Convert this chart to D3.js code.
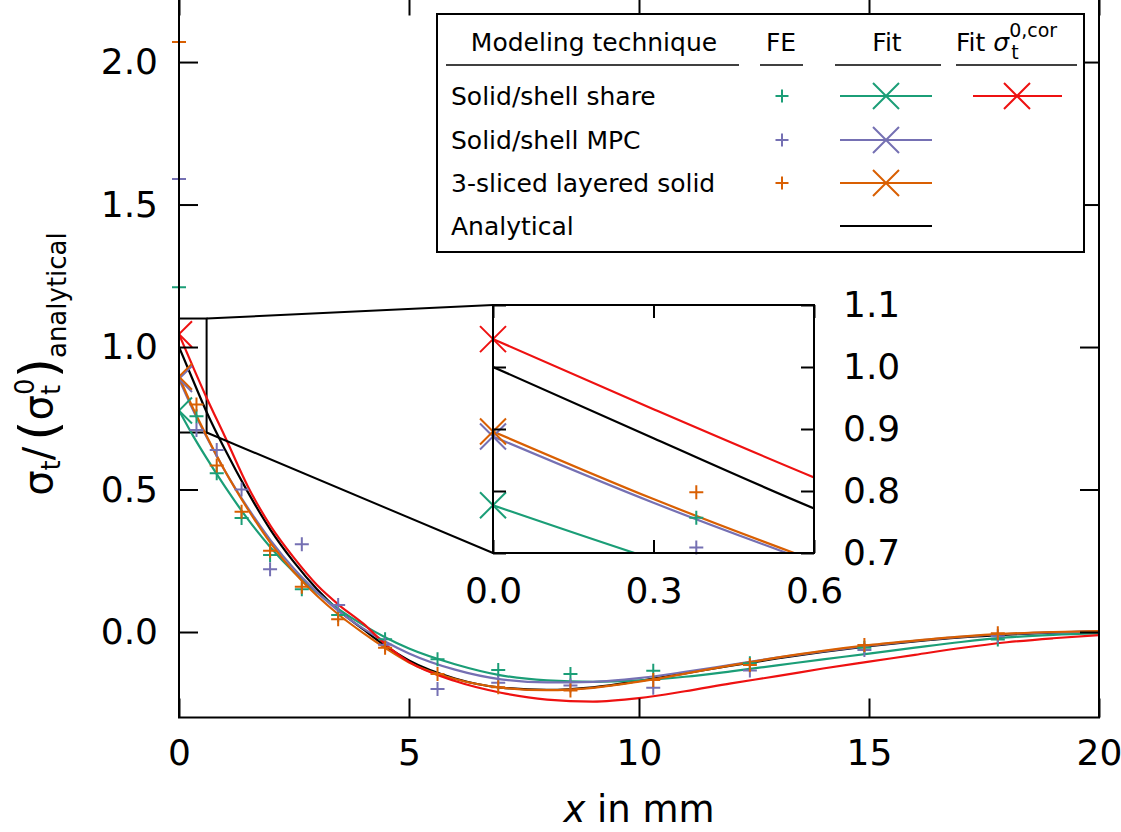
<!DOCTYPE html>
<html><head><meta charset="utf-8">
<script src="https://cdn.jsdelivr.net/npm/d3@7"></script>
<style>
html,body{margin:0;padding:0;background:#fff;}
svg{display:block;font-family:"DejaVu Sans",sans-serif;}
</style>
</head><body>
<svg id="c" width="1121" height="832"></svg>
<script>
// ---------- data ----------
const xTicks = [0, 5, 10, 15, 20];
const yTicks = [0.0, 0.5, 1.0, 1.5, 2.0];
const insetXTicks = [0.0, 0.3, 0.6];
const insetYTicks = [0.7, 0.8, 0.9, 1.0, 1.1];

const seriesNames = ["Solid/shell share", "Solid/shell MPC", "3-sliced layered solid", "Analytical"];
const seriesColors = ["#1b9e77", "#7570b3", "#d95f02", "#000000"];
const corColor = "#ee1111";

// FE results
const feX       = [0, 0.38, 0.82, 1.36, 1.98, 2.67, 3.46, 4.48, 5.62, 6.94, 8.51, 10.31, 12.41, 14.9, 17.8];
const feShare   = [1.21, 0.757, 0.557, 0.40, 0.27, 0.15, 0.06, -0.025, -0.096, -0.133, -0.147, -0.136, -0.11, -0.055, -0.026];
const feMPC     = [1.59, 0.709, 0.639, 0.50, 0.22, 0.308, 0.095, -0.045, -0.20, -0.178, -0.188, -0.196, -0.135, -0.063, -0.015];
const feLayered = [2.07, 0.798, 0.584, 0.422, 0.285, 0.159, 0.045, -0.055, -0.147, -0.194, -0.205, -0.168, -0.116, -0.046, -0.004];

// fitted / analytical curves
const fitX        = [0, 0.3, 0.6, 1, 1.5, 2, 2.5, 3, 3.5, 4, 4.5, 5, 6, 7, 8, 9, 10, 11, 12, 13, 14, 15, 16, 17, 18, 19, 20];
const fitShare    = [0.777, 0.69, 0.61, 0.51, 0.395, 0.295, 0.21, 0.138, 0.077, 0.025, -0.02, -0.058, -0.113, -0.152, -0.17, -0.175, -0.17, -0.157, -0.138, -0.117, -0.096, -0.076, -0.055, -0.035, -0.019, -0.01, -0.005];
const fitMPC      = [0.888, 0.781, 0.684, 0.565, 0.435, 0.32, 0.222, 0.14, 0.07, 0.013, -0.035, -0.075, -0.132, -0.166, -0.177, -0.175, -0.162, -0.14, -0.115, -0.09, -0.068, -0.048, -0.031, -0.017, -0.007, -0.001, 0.002];
const fitLayered  = [0.896, 0.787, 0.688, 0.565, 0.43, 0.31, 0.21, 0.127, 0.057, -0.003, -0.058, -0.107, -0.165, -0.195, -0.204, -0.196, -0.174, -0.146, -0.117, -0.09, -0.066, -0.046, -0.03, -0.016, -0.006, 0.0, 0.003];
const analytical  = [1.0, 0.885, 0.772, 0.64, 0.49, 0.356, 0.245, 0.15, 0.072, 0.01, -0.05, -0.10, -0.163, -0.195, -0.203, -0.194, -0.172, -0.145, -0.118, -0.093, -0.07, -0.05, -0.033, -0.019, -0.009, -0.002, 0.002];
const fitShareCor = [1.045, 0.932, 0.822, 0.685, 0.51, 0.37, 0.26, 0.165, 0.092, 0.03, -0.045, -0.105, -0.172, -0.213, -0.237, -0.244, -0.232, -0.208, -0.18, -0.155, -0.128, -0.104, -0.08, -0.056, -0.036, -0.022, -0.011];

// ---------- setup ----------
const svg = d3.select("#c");
const FONT = "DejaVu Sans";
const x = d3.scaleLinear().domain([0, 20]).range([179, 1099]);
const y = d3.scaleLinear().domain([-0.3, 2.23]).range([717.5, -3.5]);
const xi = d3.scaleLinear().domain([0, 0.6]).range([493, 814]);
const yi = d3.scaleLinear().domain([0.7, 1.1]).range([553, 305]);

const defs = svg.append("defs");
defs.append("clipPath").attr("id", "clipMain").append("rect")
  .attr("x", x(0)).attr("y", y(2.23)).attr("width", x(20) - x(0)).attr("height", y(-0.3) - y(2.23));
defs.append("clipPath").attr("id", "clipInset").append("rect")
  .attr("x", xi(0)).attr("y", yi(1.1)).attr("width", xi(0.6) - xi(0)).attr("height", yi(0.7) - yi(1.1));

const zip = (xs, ys) => xs.map((v, i) => [v, ys[i]]);
const curves = [
  {vals: analytical, color: seriesColors[3], marker: false},
  {vals: fitShare, color: seriesColors[0], marker: true},
  {vals: fitMPC, color: seriesColors[1], marker: true},
  {vals: fitLayered, color: seriesColors[2], marker: true},
  {vals: fitShareCor, color: corColor, marker: true}
];
const feSets = [
  {vals: feShare, color: seriesColors[0]},
  {vals: feMPC, color: seriesColors[1]},
  {vals: feLayered, color: seriesColors[2]}
];
const crossPath = h => `M${-h},${-h}L${h},${h}M${-h},${h}L${h},${-h}`;
const plusPath = h => `M${-h},0H${h}M0,${-h}V${h}`;

function drawPanel(g, xs, ys, clipId, clipMarkers, feFilter) {
  const line = d3.line().x(d => xs(d[0])).y(d => ys(d[1])).curve(d3.curveMonotoneX);
  const cg = g.append("g").attr("clip-path", `url(#${clipId})`);
  curves.forEach(c => {
    cg.append("path").datum(zip(fitX, c.vals)).attr("d", line)
      .attr("fill", "none").attr("stroke", c.color).attr("stroke-width", 2.2);
  });
  const mg = clipMarkers ? cg : g.append("g");
  curves.filter(c => c.marker).forEach(c => {
    mg.append("path").attr("d", crossPath(13))
      .attr("transform", `translate(${xs(fitX[0])},${ys(c.vals[0])})`)
      .attr("fill", "none").attr("stroke", c.color).attr("stroke-width", 2);
  });
  feSets.forEach(s => {
    g.append("g").selectAll("path").data(zip(feX, s.vals).filter(feFilter)).join("path")
      .attr("d", plusPath(7))
      .attr("transform", d => `translate(${xs(d[0])},${ys(d[1])})`)
      .attr("fill", "none").attr("stroke", s.color).attr("stroke-width", 2);
  });
}

// ---------- main plot ----------
const main = svg.append("g");
main.append("rect").attr("x", x(0)).attr("y", y(1.1)).attr("width", x(0.6) - x(0)).attr("height", y(0.7) - y(1.1))
  .attr("fill", "none").attr("stroke", "#000").attr("stroke-width", 2);
drawPanel(main, x, y, "clipMain", true, d => true);

function styleAxis(g, size) {
  g.select(".domain").remove();
  g.selectAll(".tick line").attr("stroke", "#000").attr("stroke-width", 2);
  g.selectAll("text").attr("font-family", FONT).attr("font-size", size).attr("fill", "#000");
}
styleAxis(main.append("g").attr("transform", `translate(0,${y(-0.3)})`)
  .call(d3.axisBottom(x).tickValues(xTicks).tickSize(-19).tickPadding(22).tickFormat(d3.format("d"))), 36);
styleAxis(main.append("g").attr("transform", `translate(0,${y(2.23)})`)
  .call(d3.axisTop(x).tickValues(xTicks).tickSize(-19).tickFormat("")), 36);
styleAxis(main.append("g").attr("transform", `translate(${x(0)},0)`)
  .call(d3.axisLeft(y).tickValues(yTicks).tickSize(-19).tickPadding(21).tickFormat(d3.format(".1f"))), 36);
styleAxis(main.append("g").attr("transform", `translate(${x(20)},0)`)
  .call(d3.axisRight(y).tickValues(yTicks).tickSize(-19).tickFormat("")), 36);
main.append("rect").attr("x", x(0)).attr("y", y(2.23)).attr("width", x(20) - x(0)).attr("height", y(-0.3) - y(2.23))
  .attr("fill", "none").attr("stroke", "#000").attr("stroke-width", 2);

// axis titles
svg.append("text").attr("x", (x(0) + x(20)) / 2).attr("y", 822).attr("text-anchor", "middle")
  .attr("font-family", FONT).attr("font-size", 37)
  .call(t => { t.append("tspan").attr("font-style", "italic").text("x"); t.append("tspan").text(" in mm"); });

const yl = svg.append("text").attr("transform", "translate(52,364) rotate(-90)")
  .attr("text-anchor", "middle").attr("font-family", FONT).attr("font-size", 40);
yl.append("tspan").text("σ");
yl.append("tspan").attr("font-size", 26).attr("dy", 8).text("t");
yl.append("tspan").attr("dy", -8).text("/");
yl.append("tspan").attr("font-size", 52).attr("dx", 6).attr("dy", 4).text("(");
yl.append("tspan").attr("dy", -4).text("σ");
yl.append("tspan").attr("font-size", 26).attr("dy", 8).text("t");
yl.append("tspan").attr("font-size", 26).attr("dx", -10).attr("dy", -26).text("0");
yl.append("tspan").attr("font-size", 52).attr("dy", 22).text(")");
yl.append("tspan").attr("font-size", 26).attr("dy", 10).text("analytical");

// ---------- inset ----------
const inset = svg.append("g");
inset.append("rect").attr("x", xi(0)).attr("y", yi(1.1)).attr("width", xi(0.6) - xi(0)).attr("height", yi(0.7) - yi(1.1))
  .attr("fill", "#fff");
drawPanel(inset, xi, yi, "clipInset", false, d => d[0] <= 0.6 && d[1] >= 0.7 && d[1] <= 1.1 && d[0] > 0);
styleAxis(inset.append("g").attr("transform", `translate(0,${yi(0.7)})`)
  .call(d3.axisBottom(xi).tickValues(insetXTicks).tickSize(-13).tickPadding(24).tickFormat(d3.format(".1f"))), 36);
styleAxis(inset.append("g").attr("transform", `translate(0,${yi(1.1)})`)
  .call(d3.axisTop(xi).tickValues(insetXTicks).tickSize(-13).tickFormat("")), 36);
styleAxis(inset.append("g").attr("transform", `translate(${xi(0)},0)`)
  .call(d3.axisLeft(yi).tickValues(insetYTicks).tickSize(-13).tickFormat("")), 36);
styleAxis(inset.append("g").attr("transform", `translate(${xi(0.6)},0)`)
  .call(d3.axisRight(yi).tickValues(insetYTicks).tickSize(-13).tickPadding(29).tickFormat(d3.format(".1f"))), 36);
inset.append("rect").attr("x", xi(0)).attr("y", yi(1.1)).attr("width", xi(0.6) - xi(0)).attr("height", yi(0.7) - yi(1.1))
  .attr("fill", "none").attr("stroke", "#000").attr("stroke-width", 2);
// connector lines
svg.append("line").attr("x1", x(0.6)).attr("y1", y(1.1)).attr("x2", xi(0)).attr("y2", yi(1.1))
  .attr("stroke", "#000").attr("stroke-width", 2);
svg.append("line").attr("x1", x(0.6)).attr("y1", y(0.7)).attr("x2", xi(0)).attr("y2", yi(0.7))
  .attr("stroke", "#000").attr("stroke-width", 2);

// ---------- legend ----------
const lg = svg.append("g").attr("font-family", FONT).attr("font-size", 25);
lg.append("rect").attr("x", 437).attr("y", 14).attr("width", 647).attr("height", 238)
  .attr("fill", "#fff").attr("stroke", "#000").attr("stroke-width", 2);
const hy = 51;
lg.append("text").attr("x", 594).attr("y", hy).attr("text-anchor", "middle").text("Modeling technique");
lg.append("text").attr("x", 781).attr("y", hy).attr("text-anchor", "middle").text("FE");
lg.append("text").attr("x", 887).attr("y", hy).attr("text-anchor", "middle").text("Fit");
const fh = lg.append("text").attr("x", 956).attr("y", hy);
fh.append("tspan").text("Fit ");
fh.append("tspan").attr("font-style", "italic").text("σ");
fh.append("tspan").attr("font-size", 19).attr("dy", -14).text("0,cor");
fh.append("tspan").attr("font-size", 19).attr("dx", -46).attr("dy", 22).text("t");
[[446, 739], [760, 803], [835, 941], [956, 1077]].forEach(s => {
  lg.append("line").attr("x1", s[0]).attr("x2", s[1]).attr("y1", 65).attr("y2", 65)
    .attr("stroke", "#000").attr("stroke-width", 1.5);
});
const rowY = [96, 140, 183, 226];
seriesNames.forEach((n, i) => {
  lg.append("text").attr("x", 451).attr("y", rowY[i] + 9).text(n);
  lg.append("line").attr("x1", 840).attr("x2", 932).attr("y1", rowY[i]).attr("y2", rowY[i])
    .attr("stroke", seriesColors[i]).attr("stroke-width", 2);
  if (i < 3) {
    lg.append("path").attr("d", plusPath(6.5)).attr("transform", `translate(782,${rowY[i]})`)
      .attr("fill", "none").attr("stroke", seriesColors[i]).attr("stroke-width", 2);
    lg.append("path").attr("d", crossPath(13)).attr("transform", `translate(886,${rowY[i]})`)
      .attr("fill", "none").attr("stroke", seriesColors[i]).attr("stroke-width", 2);
  }
});
lg.append("line").attr("x1", 973).attr("x2", 1062).attr("y1", rowY[0]).attr("y2", rowY[0])
  .attr("stroke", corColor).attr("stroke-width", 2);
lg.append("path").attr("d", crossPath(13)).attr("transform", `translate(1017,${rowY[0]})`)
  .attr("fill", "none").attr("stroke", corColor).attr("stroke-width", 2);
</script>
</body></html>
